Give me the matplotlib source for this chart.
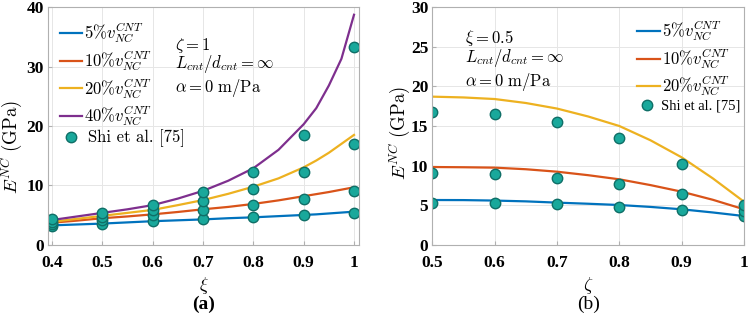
import matplotlib

matplotlib.use("Agg")

import matplotlib.pyplot as plt
from matplotlib.lines import Line2D

# panel (a): E^NC vs xi, zeta = 1
xi_line = [0.4, 0.45, 0.5, 0.55, 0.6, 0.65, 0.7, 0.75, 0.8, 0.85, 0.9, 0.925, 0.95, 0.975, 1.0]
a_5 = [3.3, 3.45, 3.6, 3.8, 4.0, 4.15, 4.3, 4.5, 4.65, 4.85, 5.05, 5.15, 5.3, 5.45, 5.6]
a_10 = [3.75, 4.1, 4.5, 4.8, 5.15, 5.55, 6.0, 6.4, 6.9, 7.5, 8.2, 8.55, 8.9, 9.3, 9.7]
a_20 = [3.9, 4.4, 4.9, 5.4, 5.9, 6.7, 7.55, 8.6, 9.8, 11.2, 13.05, 14.2, 15.5, 17.0, 18.5]
a_40 = [4.2, 4.8, 5.4, 6.0, 6.7, 7.8, 9.1, 10.8, 12.9, 16.0, 20.3, 23.0, 26.8, 31.3, 38.7]

xi_shi = [0.4, 0.5, 0.6, 0.7, 0.8, 0.9, 1.0]
shi_a = [
    [3.2, 3.5, 4.0, 4.3, 4.7, 5.0, 5.3],
    [3.5, 4.2, 5.0, 5.8, 6.7, 7.8, 9.0],
    [3.9, 4.65, 5.9, 7.4, 9.4, 12.3, 16.9],
    [4.3, 5.3, 6.7, 8.9, 12.3, 18.5, 33.3],
]

# panel (b): E^NC vs zeta, xi = 0.5
zeta_line = [0.5, 0.55, 0.6, 0.65, 0.7, 0.75, 0.8, 0.85, 0.9, 0.95, 1.0]
b_5 = [5.67, 5.66, 5.6, 5.5, 5.34, 5.2, 5.04, 4.8, 4.5, 4.1, 3.65]
b_10 = [9.83, 9.8, 9.75, 9.55, 9.24, 8.8, 8.28, 7.55, 6.72, 5.7, 4.5]
b_20 = [18.7, 18.6, 18.4, 17.9, 17.2, 16.2, 15.0, 13.2, 11.05, 8.4, 5.46]

zeta_shi = [0.5, 0.6, 0.7, 0.8, 0.9, 1.0]
shi_b = [
    [5.34, 5.3, 5.17, 4.8, 4.4, 3.65],
    [9.04, 8.9, 8.5, 7.7, 6.4, 4.3],
    [16.8, 16.5, 15.5, 13.5, 10.2, 5.1],
]

labels = [r"$5\%v_{NC}^{CNT}$", r"$10\%v_{NC}^{CNT}$",
          r"$20\%v_{NC}^{CNT}$", r"$40\%v_{NC}^{CNT}$"]
colors = ["#0072BD", "#D95319", "#EDB120", "#7E2F8E"]

plt.rcParams["mathtext.fontset"] = "cm"

dot_style = dict(linestyle="none", marker="o", markersize=7.5,
                 markerfacecolor="#19a89b", markeredgecolor="#0f6f67",
                 markeredgewidth=1.0)
tick_font = dict(family="Liberation Serif", weight="bold", size=12.5)


def style_axis(axis, xlim, ylim, xticks, yticks, xticklabels):
    axis.set_xlim(*xlim)
    axis.set_ylim(*ylim)
    axis.set_xticks(xticks)
    axis.set_yticks(yticks)
    axis.set_xticklabels(xticklabels, **tick_font)
    axis.set_yticklabels([str(v) for v in yticks], **tick_font)
    axis.grid(True, color="#e6e6e6", linewidth=0.7)
    axis.set_axisbelow(True)
    for spine in axis.spines.values():
        spine.set_color("#b0b0b0")
        spine.set_linewidth(0.8)
    axis.tick_params(direction="in", length=3, color="#b0b0b0",
                     top=False, right=False)
    axis.tick_params(axis="x", pad=7)
    axis.tick_params(axis="y", pad=3)


def add_legends(axis, line_handles, x_lines, y_lines, shi_label, shi_font,
                x_shi, y_shi):
    line_legend = axis.legend(handles=line_handles, loc="upper left",
                              bbox_to_anchor=(x_lines, y_lines), frameon=False,
                              fontsize=12, handlelength=1.35, handletextpad=0.12,
                              labelspacing=0.2, borderaxespad=0, borderpad=0)
    axis.add_artist(line_legend)
    shi_handle = Line2D([], [], **dot_style)
    axis.legend(handles=[shi_handle], labels=[shi_label], loc="center left",
                bbox_to_anchor=(x_shi, y_shi), frameon=False,
                prop=shi_font, handlelength=1.5, handletextpad=0.25,
                borderaxespad=0, borderpad=0)


figure = plt.figure(figsize=(7.49, 3.19), dpi=100)
ax_a = figure.add_axes([0.0641, 0.232, 0.4156, 0.746])
ax_b = figure.add_axes([0.5772, 0.232, 0.4161, 0.746])

handles_a = []
for values, label, color in zip([a_5, a_10, a_20, a_40], labels, colors):
    handles_a += ax_a.plot(xi_line, values, color=color, linewidth=1.6, label=label)
for values in shi_a:
    ax_a.plot(xi_shi, values, **dot_style)

style_axis(ax_a, (0.392, 1.0105), (0, 40),
           [0.4, 0.5, 0.6, 0.7, 0.8, 0.9, 1.0], [0, 10, 20, 30, 40],
           ["0.4", "0.5", "0.6", "0.7", "0.8", "0.9", "1"])
ax_a.set_xlabel(r"$\xi$", fontsize=13)
ax_a.xaxis.set_label_coords(0.5, -0.125)
ax_a.set_ylabel(r"$E^{NC}\ \mathrm{(GPa)}$", fontsize=13.5)
ax_a.yaxis.set_label_coords(-0.077, 0.41)
add_legends(ax_a, handles_a, 0.0385, 0.941, "Shi et al. [75]",
            {"family": "cmr10", "size": 12}, 0.035, 0.448)
ax_a.text(0.645, 33.6, r"$\zeta = 1$", fontsize=12, va="center")
ax_a.text(0.645, 30.4, r"$L_{cnt}/d_{cnt} = \infty$", fontsize=12, va="center")
ax_a.text(0.645, 26.4, r"$\alpha = 0\ \mathrm{m/Pa}$", fontsize=12, va="center")
ax_a.text(0.5, -0.25, "(a)", transform=ax_a.transAxes, ha="center", va="center",
          family="Liberation Serif", weight="bold", fontsize=14)

handles_b = []
for values, label, color in zip([b_5, b_10, b_20], labels, colors):
    handles_b += ax_b.plot(zeta_line, values, color=color, linewidth=1.6, label=label)
for values in shi_b:
    ax_b.plot(zeta_shi, values, **dot_style)

style_axis(ax_b, (0.5, 1.0), (0, 30),
           [0.5, 0.6, 0.7, 0.8, 0.9, 1.0], [0, 5, 10, 15, 20, 25, 30],
           ["0.5", "0.6", "0.7", "0.8", "0.9", "1"])
ax_b.set_xlabel(r"$\zeta$", fontsize=13)
ax_b.xaxis.set_label_coords(0.5, -0.125)
ax_b.set_ylabel(r"$E^{NC}\ \mathrm{(GPa)}$", fontsize=13.5)
ax_b.yaxis.set_label_coords(-0.066, 0.47)
add_legends(ax_b, handles_b, 0.657, 0.95, "Shi et al. [75]",
            {"family": "Liberation Serif", "size": 10.5}, 0.6525, 0.584)
ax_b.text(0.553, 26.1, r"$\xi = 0.5$", fontsize=12, va="center")
ax_b.text(0.553, 23.6, r"$L_{cnt}/d_{cnt} = \infty$", fontsize=12, va="center")
ax_b.text(0.553, 20.6, r"$\alpha = 0\ \mathrm{m/Pa}$", fontsize=12, va="center")
ax_b.text(0.5, -0.25, "(b)", transform=ax_b.transAxes, ha="center", va="center",
          family="Liberation Serif", fontsize=14)

figure.savefig("out.png", dpi=100)
plt.close(figure)
